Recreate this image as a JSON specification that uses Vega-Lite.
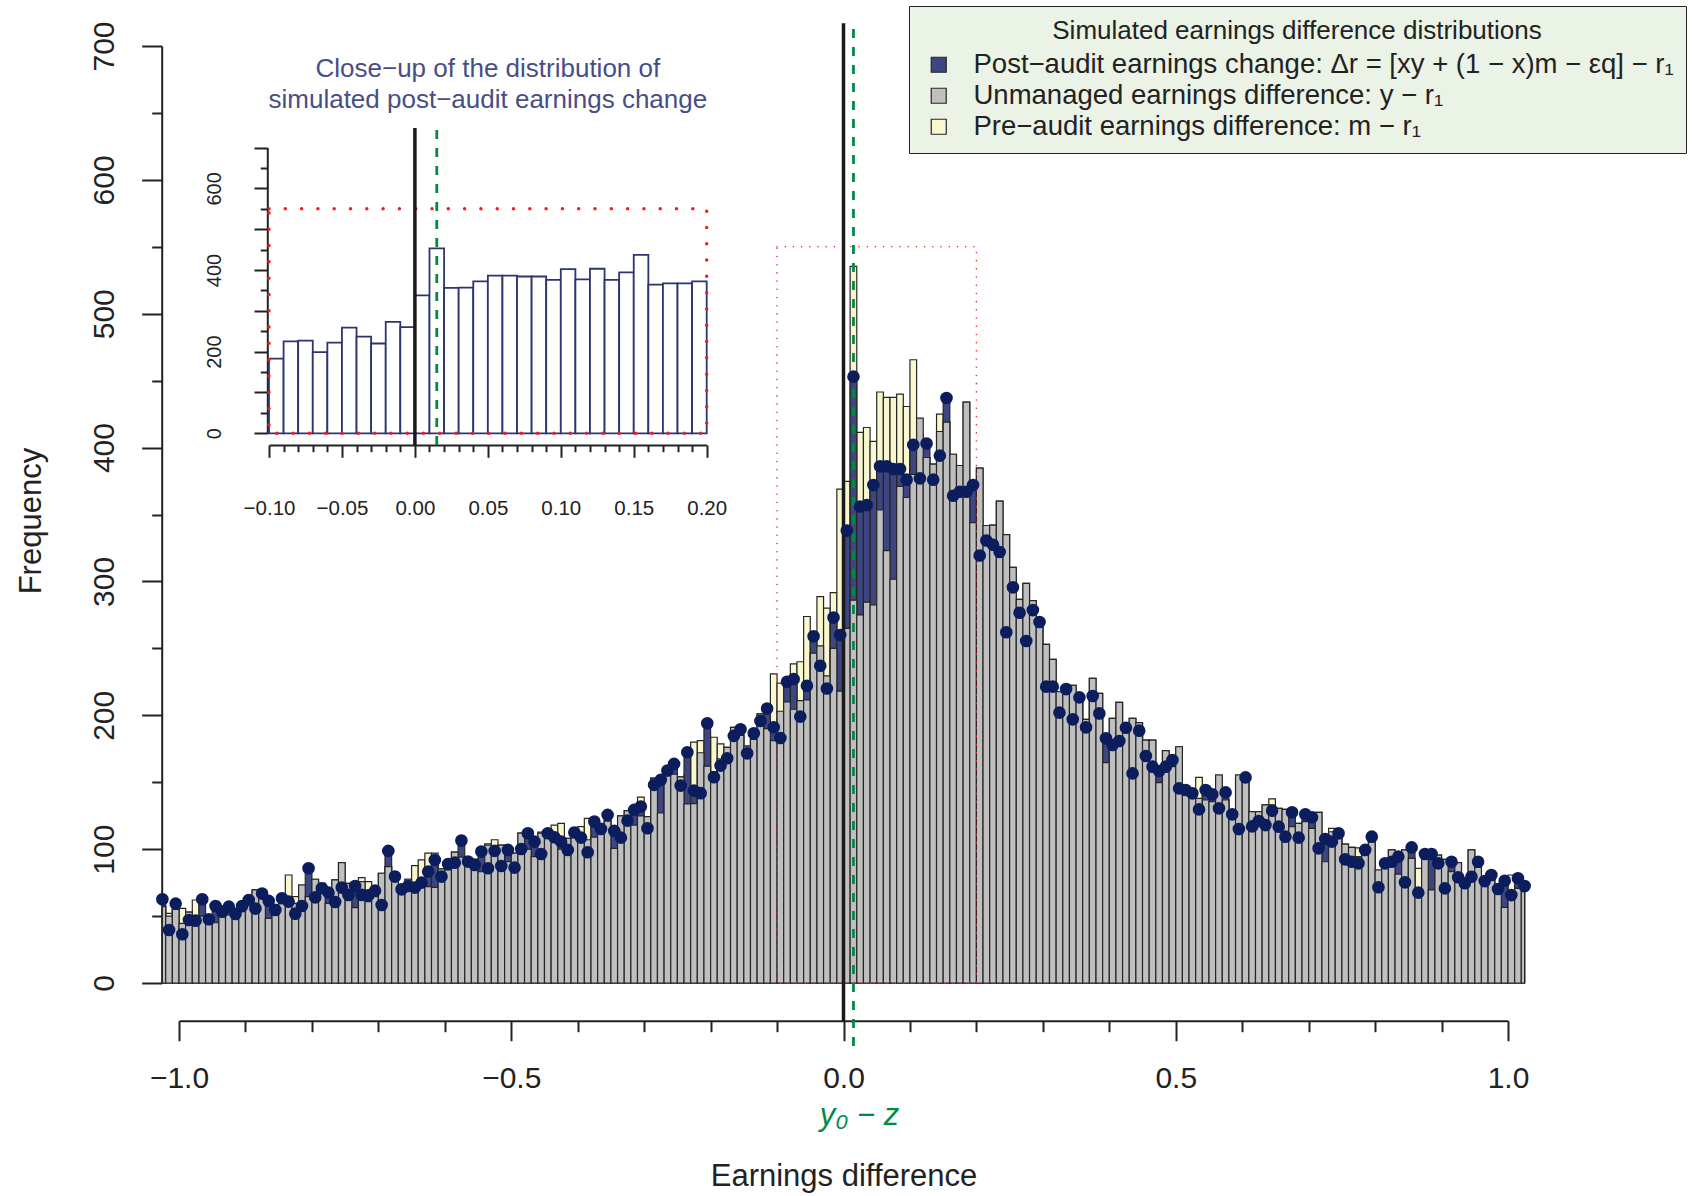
{
  "$schema": "https://vega.github.io/schema/vega-lite/v6.json",
  "width": 1329,
  "height": 937,
  "autosize": {"type": "none"},
  "padding": {"left": 179, "top": 46, "right": 184, "bottom": 213},
  "background": "white",
  "config": {
    "font": "Liberation Sans",
    "view": {"stroke": null},
    "axis": {"grid": false, "labelOverlap": false, "labelFlush": false, "labelBound": false, "domainColor": "#222", "tickColor": "#222", "labelColor": "#222", "titleColor": "#222", "titleFontWeight": "normal"}
  },
  "datasets": {
    "bins": [
      {"lo":-1.025,"hi":-1.02,"mid":-1.025,"pre":57,"unm":57,"post":62.5},
      {"lo":-1.02,"hi":-1.01,"mid":-1.015,"pre":52,"unm":50,"post":39.6},
      {"lo":-1.01,"hi":-1.0,"mid":-1.005,"pre":55,"unm":55,"post":59.3},
      {"lo":-1.0,"hi":-0.99,"mid":-0.995,"pre":55.8,"unm":44.6,"post":36.4},
      {"lo":-0.99,"hi":-0.98,"mid":-0.985,"pre":53,"unm":53,"post":47.1},
      {"lo":-0.98,"hi":-0.97,"mid":-0.975,"pre":62,"unm":42.6,"post":46.6},
      {"lo":-0.97,"hi":-0.96,"mid":-0.965,"pre":50,"unm":50,"post":62.5},
      {"lo":-0.96,"hi":-0.95,"mid":-0.955,"pre":44.6,"unm":44.6,"post":47.6},
      {"lo":-0.95,"hi":-0.94,"mid":-0.945,"pre":45,"unm":45,"post":57.5},
      {"lo":-0.94,"hi":-0.93,"mid":-0.935,"pre":49.6,"unm":49.6,"post":53.3},
      {"lo":-0.93,"hi":-0.92,"mid":-0.925,"pre":50.8,"unm":50.8,"post":57},
      {"lo":-0.92,"hi":-0.91,"mid":-0.915,"pre":48.3,"unm":48.3,"post":51.6},
      {"lo":-0.91,"hi":-0.9,"mid":-0.905,"pre":53.3,"unm":53.3,"post":57.5},
      {"lo":-0.9,"hi":-0.89,"mid":-0.895,"pre":58.3,"unm":58.3,"post":62},
      {"lo":-0.89,"hi":-0.88,"mid":-0.885,"pre":69.5,"unm":69.5,"post":55.6},
      {"lo":-0.88,"hi":-0.87,"mid":-0.875,"pre":69.5,"unm":69.5,"post":66.8},
      {"lo":-0.87,"hi":-0.86,"mid":-0.865,"pre":48.3,"unm":48.3,"post":61.3},
      {"lo":-0.86,"hi":-0.85,"mid":-0.855,"pre":57,"unm":57,"post":54.6},
      {"lo":-0.85,"hi":-0.84,"mid":-0.845,"pre":62,"unm":62,"post":63.3},
      {"lo":-0.84,"hi":-0.83,"mid":-0.835,"pre":80.7,"unm":64.5,"post":60.8},
      {"lo":-0.83,"hi":-0.82,"mid":-0.825,"pre":64.5,"unm":59.5,"post":51.8},
      {"lo":-0.82,"hi":-0.81,"mid":-0.815,"pre":73.2,"unm":73.2,"post":57.5},
      {"lo":-0.81,"hi":-0.8,"mid":-0.805,"pre":64.5,"unm":64.5,"post":85.7},
      {"lo":-0.8,"hi":-0.79,"mid":-0.795,"pre":77.5,"unm":77.5,"post":64},
      {"lo":-0.79,"hi":-0.78,"mid":-0.785,"pre":74.5,"unm":74.5,"post":70.8},
      {"lo":-0.78,"hi":-0.77,"mid":-0.775,"pre":59.5,"unm":59.5,"post":67.5},
      {"lo":-0.77,"hi":-0.76,"mid":-0.765,"pre":77,"unm":77,"post":60.5},
      {"lo":-0.76,"hi":-0.75,"mid":-0.755,"pre":90,"unm":90,"post":71.3},
      {"lo":-0.75,"hi":-0.74,"mid":-0.745,"pre":74.5,"unm":74.5,"post":65.8},
      {"lo":-0.74,"hi":-0.73,"mid":-0.735,"pre":56.3,"unm":56.3,"post":72.5},
      {"lo":-0.73,"hi":-0.72,"mid":-0.725,"pre":78.7,"unm":75.7,"post":65.8},
      {"lo":-0.72,"hi":-0.71,"mid":-0.715,"pre":75.7,"unm":60.8,"post":65.5},
      {"lo":-0.71,"hi":-0.7,"mid":-0.705,"pre":64.5,"unm":64.5,"post":69},
      {"lo":-0.7,"hi":-0.69,"mid":-0.695,"pre":82,"unm":82,"post":58.3},
      {"lo":-0.69,"hi":-0.68,"mid":-0.685,"pre":87,"unm":87,"post":98.7},
      {"lo":-0.68,"hi":-0.67,"mid":-0.675,"pre":77.5,"unm":77.5,"post":79.5},
      {"lo":-0.67,"hi":-0.66,"mid":-0.665,"pre":70,"unm":70,"post":70},
      {"lo":-0.66,"hi":-0.65,"mid":-0.655,"pre":77.5,"unm":77.5,"post":72.5},
      {"lo":-0.65,"hi":-0.64,"mid":-0.645,"pre":87.7,"unm":74.5,"post":71.3},
      {"lo":-0.64,"hi":-0.63,"mid":-0.635,"pre":92,"unm":75.7,"post":75},
      {"lo":-0.63,"hi":-0.62,"mid":-0.625,"pre":97,"unm":72,"post":83.2},
      {"lo":-0.62,"hi":-0.61,"mid":-0.615,"pre":97,"unm":71.5,"post":91.9},
      {"lo":-0.61,"hi":-0.6,"mid":-0.605,"pre":85.2,"unm":85.2,"post":79.5},
      {"lo":-0.6,"hi":-0.59,"mid":-0.595,"pre":84.5,"unm":84.5,"post":88.9},
      {"lo":-0.59,"hi":-0.58,"mid":-0.585,"pre":97.7,"unm":97.7,"post":89.9},
      {"lo":-0.58,"hi":-0.57,"mid":-0.575,"pre":94,"unm":94,"post":106.4},
      {"lo":-0.57,"hi":-0.56,"mid":-0.565,"pre":92.4,"unm":92.4,"post":90.7},
      {"lo":-0.56,"hi":-0.55,"mid":-0.555,"pre":92.4,"unm":92.4,"post":88.2},
      {"lo":-0.55,"hi":-0.54,"mid":-0.545,"pre":83.2,"unm":83.2,"post":98.2},
      {"lo":-0.54,"hi":-0.53,"mid":-0.535,"pre":104,"unm":103,"post":85.7},
      {"lo":-0.53,"hi":-0.52,"mid":-0.525,"pre":107,"unm":102,"post":98.7},
      {"lo":-0.52,"hi":-0.51,"mid":-0.515,"pre":103,"unm":103,"post":87.4},
      {"lo":-0.51,"hi":-0.5,"mid":-0.505,"pre":90.7,"unm":90.7,"post":99.4},
      {"lo":-0.5,"hi":-0.49,"mid":-0.495,"pre":97,"unm":97,"post":86.2},
      {"lo":-0.49,"hi":-0.48,"mid":-0.485,"pre":112,"unm":112,"post":100.1},
      {"lo":-0.48,"hi":-0.47,"mid":-0.475,"pre":100,"unm":100,"post":111.9},
      {"lo":-0.47,"hi":-0.46,"mid":-0.465,"pre":94.4,"unm":94.4,"post":105.6},
      {"lo":-0.46,"hi":-0.45,"mid":-0.455,"pre":112.7,"unm":112,"post":96.4},
      {"lo":-0.45,"hi":-0.44,"mid":-0.445,"pre":110,"unm":110,"post":111.9},
      {"lo":-0.44,"hi":-0.43,"mid":-0.435,"pre":118,"unm":107,"post":108.9},
      {"lo":-0.43,"hi":-0.42,"mid":-0.425,"pre":119.3,"unm":100,"post":105.6},
      {"lo":-0.42,"hi":-0.41,"mid":-0.415,"pre":108,"unm":108,"post":99.4},
      {"lo":-0.41,"hi":-0.4,"mid":-0.405,"pre":115.6,"unm":115.6,"post":112.4},
      {"lo":-0.4,"hi":-0.39,"mid":-0.395,"pre":116.8,"unm":110.6,"post":108.6},
      {"lo":-0.39,"hi":-0.38,"mid":-0.385,"pre":123,"unm":107,"post":97.7},
      {"lo":-0.38,"hi":-0.37,"mid":-0.375,"pre":109,"unm":109,"post":120.6},
      {"lo":-0.37,"hi":-0.36,"mid":-0.365,"pre":112,"unm":112,"post":115.1},
      {"lo":-0.36,"hi":-0.35,"mid":-0.355,"pre":121,"unm":121,"post":125.6},
      {"lo":-0.35,"hi":-0.34,"mid":-0.345,"pre":100.6,"unm":100.6,"post":113.6},
      {"lo":-0.34,"hi":-0.33,"mid":-0.335,"pre":124.8,"unm":124.8,"post":108.6},
      {"lo":-0.33,"hi":-0.32,"mid":-0.325,"pre":128.8,"unm":128.8,"post":121.3},
      {"lo":-0.32,"hi":-0.31,"mid":-0.315,"pre":118,"unm":118,"post":129.3},
      {"lo":-0.31,"hi":-0.3,"mid":-0.305,"pre":138.8,"unm":124.8,"post":131.8},
      {"lo":-0.3,"hi":-0.29,"mid":-0.295,"pre":124.3,"unm":124.3,"post":115.6},
      {"lo":-0.29,"hi":-0.28,"mid":-0.285,"pre":153,"unm":153,"post":148},
      {"lo":-0.28,"hi":-0.27,"mid":-0.275,"pre":127,"unm":127,"post":151.7},
      {"lo":-0.27,"hi":-0.26,"mid":-0.265,"pre":158,"unm":158,"post":158.7},
      {"lo":-0.26,"hi":-0.25,"mid":-0.255,"pre":156,"unm":156,"post":163.7},
      {"lo":-0.25,"hi":-0.24,"mid":-0.245,"pre":154,"unm":154,"post":147.5},
      {"lo":-0.24,"hi":-0.23,"mid":-0.235,"pre":155.5,"unm":133.8,"post":172.4},
      {"lo":-0.23,"hi":-0.22,"mid":-0.225,"pre":180,"unm":134,"post":143.7},
      {"lo":-0.22,"hi":-0.21,"mid":-0.215,"pre":181,"unm":172,"post":141.8},
      {"lo":-0.21,"hi":-0.2,"mid":-0.205,"pre":162,"unm":162,"post":194},
      {"lo":-0.2,"hi":-0.19,"mid":-0.195,"pre":183.6,"unm":158,"post":153.7},
      {"lo":-0.19,"hi":-0.18,"mid":-0.185,"pre":178.6,"unm":167.4,"post":162.4},
      {"lo":-0.18,"hi":-0.17,"mid":-0.175,"pre":176,"unm":176,"post":167.9},
      {"lo":-0.17,"hi":-0.16,"mid":-0.165,"pre":191,"unm":191,"post":184.6},
      {"lo":-0.16,"hi":-0.15,"mid":-0.155,"pre":185,"unm":185,"post":189.6},
      {"lo":-0.15,"hi":-0.14,"mid":-0.145,"pre":177,"unm":177,"post":171.6},
      {"lo":-0.14,"hi":-0.13,"mid":-0.135,"pre":182,"unm":182,"post":186.6},
      {"lo":-0.13,"hi":-0.12,"mid":-0.125,"pre":201,"unm":201,"post":195.8},
      {"lo":-0.12,"hi":-0.11,"mid":-0.115,"pre":190,"unm":190,"post":205},
      {"lo":-0.11,"hi":-0.1,"mid":-0.105,"pre":231,"unm":181,"post":191},
      {"lo":-0.1,"hi":-0.09,"mid":-0.095,"pre":224,"unm":203,"post":183},
      {"lo":-0.09,"hi":-0.08,"mid":-0.085,"pre":210,"unm":210,"post":225},
      {"lo":-0.08,"hi":-0.07,"mid":-0.075,"pre":238.4,"unm":204.5,"post":227},
      {"lo":-0.07,"hi":-0.06,"mid":-0.065,"pre":240,"unm":211,"post":199},
      {"lo":-0.06,"hi":-0.05,"mid":-0.055,"pre":273.8,"unm":211.5,"post":222},
      {"lo":-0.05,"hi":-0.04,"mid":-0.045,"pre":246.4,"unm":246.4,"post":259},
      {"lo":-0.04,"hi":-0.03,"mid":-0.035,"pre":288.7,"unm":251.9,"post":237},
      {"lo":-0.03,"hi":-0.02,"mid":-0.025,"pre":280,"unm":229.4,"post":220},
      {"lo":-0.02,"hi":-0.01,"mid":-0.015,"pre":291.7,"unm":250,"post":273},
      {"lo":-0.01,"hi":0.0,"mid":-0.005,"pre":369,"unm":218,"post":260},
      {"lo":0.0,"hi":0.01,"mid":0.005,"pre":374.7,"unm":265,"post":338},
      {"lo":0.01,"hi":0.02,"mid":0.015,"pre":535.4,"unm":286,"post":453},
      {"lo":0.02,"hi":0.03,"mid":0.025,"pre":411.3,"unm":275,"post":356},
      {"lo":0.03,"hi":0.04,"mid":0.035,"pre":415,"unm":284.5,"post":357},
      {"lo":0.04,"hi":0.05,"mid":0.045,"pre":404.6,"unm":282.5,"post":372},
      {"lo":0.05,"hi":0.06,"mid":0.055,"pre":441.5,"unm":353.5,"post":386},
      {"lo":0.06,"hi":0.07,"mid":0.065,"pre":437.5,"unm":323,"post":386},
      {"lo":0.07,"hi":0.08,"mid":0.075,"pre":437.5,"unm":301.7,"post":384},
      {"lo":0.08,"hi":0.09,"mid":0.085,"pre":440,"unm":371,"post":384},
      {"lo":0.09,"hi":0.1,"mid":0.095,"pre":430.7,"unm":362.7,"post":376},
      {"lo":0.1,"hi":0.11,"mid":0.105,"pre":465.6,"unm":380,"post":402},
      {"lo":0.11,"hi":0.12,"mid":0.115,"pre":410,"unm":422,"post":377},
      {"lo":0.12,"hi":0.13,"mid":0.125,"pre":392.6,"unm":392.6,"post":403},
      {"lo":0.13,"hi":0.14,"mid":0.135,"pre":387.6,"unm":387.6,"post":376},
      {"lo":0.14,"hi":0.15,"mid":0.145,"pre":425,"unm":412,"post":394},
      {"lo":0.15,"hi":0.16,"mid":0.155,"pre":419,"unm":419,"post":437},
      {"lo":0.16,"hi":0.17,"mid":0.165,"pre":395,"unm":395,"post":364},
      {"lo":0.17,"hi":0.18,"mid":0.175,"pre":386.6,"unm":386.6,"post":367},
      {"lo":0.18,"hi":0.19,"mid":0.185,"pre":434,"unm":434,"post":367},
      {"lo":0.19,"hi":0.2,"mid":0.195,"pre":344,"unm":344,"post":372},
      {"lo":0.2,"hi":0.21,"mid":0.205,"pre":384.7,"unm":384.7,"post":319.4},
      {"lo":0.21,"hi":0.22,"mid":0.215,"pre":341.8,"unm":341.8,"post":330.6},
      {"lo":0.22,"hi":0.23,"mid":0.225,"pre":342,"unm":342,"post":327.4},
      {"lo":0.23,"hi":0.24,"mid":0.235,"pre":360,"unm":360,"post":322},
      {"lo":0.24,"hi":0.25,"mid":0.245,"pre":335,"unm":335,"post":262},
      {"lo":0.25,"hi":0.26,"mid":0.255,"pre":310.5,"unm":310.5,"post":295.6},
      {"lo":0.26,"hi":0.27,"mid":0.265,"pre":286.6,"unm":286.6,"post":276.6},
      {"lo":0.27,"hi":0.28,"mid":0.275,"pre":298.6,"unm":298.6,"post":255.5},
      {"lo":0.28,"hi":0.29,"mid":0.285,"pre":285.6,"unm":285.6,"post":278.6},
      {"lo":0.29,"hi":0.3,"mid":0.295,"pre":266.7,"unm":266.7,"post":269.7},
      {"lo":0.3,"hi":0.31,"mid":0.305,"pre":253,"unm":253,"post":221.4},
      {"lo":0.31,"hi":0.32,"mid":0.315,"pre":241.8,"unm":241.8,"post":221.4},
      {"lo":0.32,"hi":0.33,"mid":0.325,"pre":217.6,"unm":217.6,"post":202},
      {"lo":0.33,"hi":0.34,"mid":0.335,"pre":223,"unm":223,"post":219.6},
      {"lo":0.34,"hi":0.35,"mid":0.345,"pre":222.4,"unm":222.4,"post":197},
      {"lo":0.35,"hi":0.36,"mid":0.355,"pre":210,"unm":210,"post":213.4},
      {"lo":0.36,"hi":0.37,"mid":0.365,"pre":197,"unm":197,"post":191},
      {"lo":0.37,"hi":0.38,"mid":0.375,"pre":227.6,"unm":227.6,"post":214.4},
      {"lo":0.38,"hi":0.39,"mid":0.385,"pre":216.4,"unm":216.4,"post":201.4},
      {"lo":0.39,"hi":0.4,"mid":0.395,"pre":164.6,"unm":164.6,"post":182.8},
      {"lo":0.4,"hi":0.41,"mid":0.405,"pre":197.7,"unm":197.7,"post":177.8},
      {"lo":0.41,"hi":0.42,"mid":0.415,"pre":209.7,"unm":209.7,"post":180.8},
      {"lo":0.42,"hi":0.43,"mid":0.425,"pre":194,"unm":194,"post":190.7},
      {"lo":0.43,"hi":0.44,"mid":0.435,"pre":197.7,"unm":197.7,"post":156.6},
      {"lo":0.44,"hi":0.45,"mid":0.445,"pre":194.5,"unm":194.5,"post":188.5},
      {"lo":0.45,"hi":0.46,"mid":0.455,"pre":181.5,"unm":181.5,"post":169.6},
      {"lo":0.46,"hi":0.47,"mid":0.465,"pre":181.5,"unm":181.5,"post":161.6},
      {"lo":0.47,"hi":0.48,"mid":0.475,"pre":149.7,"unm":149.7,"post":158.4},
      {"lo":0.48,"hi":0.49,"mid":0.485,"pre":173.6,"unm":173.6,"post":161.6},
      {"lo":0.49,"hi":0.5,"mid":0.495,"pre":161.6,"unm":161.6,"post":166.6},
      {"lo":0.5,"hi":0.51,"mid":0.505,"pre":176.5,"unm":176.5,"post":145.4},
      {"lo":0.51,"hi":0.52,"mid":0.515,"pre":141.7,"unm":141.7,"post":144.2},
      {"lo":0.52,"hi":0.53,"mid":0.525,"pre":138,"unm":138,"post":141.7},
      {"lo":0.53,"hi":0.54,"mid":0.535,"pre":153.6,"unm":138,"post":129.7},
      {"lo":0.54,"hi":0.55,"mid":0.545,"pre":136.7,"unm":136.7,"post":144.2},
      {"lo":0.55,"hi":0.56,"mid":0.555,"pre":135.5,"unm":135.5,"post":140.9},
      {"lo":0.56,"hi":0.57,"mid":0.565,"pre":155.4,"unm":155.4,"post":130.5},
      {"lo":0.57,"hi":0.58,"mid":0.575,"pre":136.7,"unm":136.7,"post":142.4},
      {"lo":0.58,"hi":0.59,"mid":0.585,"pre":128,"unm":128,"post":126},
      {"lo":0.59,"hi":0.6,"mid":0.595,"pre":155.4,"unm":155.4,"post":115},
      {"lo":0.6,"hi":0.61,"mid":0.605,"pre":155.4,"unm":155.4,"post":153.6},
      {"lo":0.61,"hi":0.62,"mid":0.615,"pre":128,"unm":128,"post":117},
      {"lo":0.62,"hi":0.63,"mid":0.625,"pre":128,"unm":128,"post":121},
      {"lo":0.63,"hi":0.64,"mid":0.635,"pre":133,"unm":133,"post":118},
      {"lo":0.64,"hi":0.65,"mid":0.645,"pre":137.5,"unm":133,"post":128.7},
      {"lo":0.65,"hi":0.66,"mid":0.655,"pre":130.5,"unm":130.5,"post":116.8},
      {"lo":0.66,"hi":0.67,"mid":0.665,"pre":129.7,"unm":129.7,"post":109.3},
      {"lo":0.67,"hi":0.68,"mid":0.675,"pre":116.8,"unm":116.8,"post":127.5},
      {"lo":0.68,"hi":0.69,"mid":0.685,"pre":119.3,"unm":119.3,"post":108.6},
      {"lo":0.69,"hi":0.7,"mid":0.695,"pre":120.5,"unm":120.5,"post":126},
      {"lo":0.7,"hi":0.71,"mid":0.705,"pre":115.5,"unm":115.5,"post":123.8},
      {"lo":0.71,"hi":0.72,"mid":0.715,"pre":127.5,"unm":127.5,"post":100.6},
      {"lo":0.72,"hi":0.73,"mid":0.725,"pre":90.6,"unm":90.6,"post":107.6},
      {"lo":0.73,"hi":0.74,"mid":0.735,"pre":115.5,"unm":113,"post":105.6},
      {"lo":0.74,"hi":0.75,"mid":0.745,"pre":111.8,"unm":111.8,"post":111.8},
      {"lo":0.75,"hi":0.76,"mid":0.755,"pre":103.8,"unm":103.8,"post":92.4},
      {"lo":0.76,"hi":0.77,"mid":0.765,"pre":101.3,"unm":101.3,"post":90.6},
      {"lo":0.77,"hi":0.78,"mid":0.775,"pre":101,"unm":94.4,"post":89.4},
      {"lo":0.78,"hi":0.79,"mid":0.785,"pre":101.3,"unm":101.3,"post":99.4},
      {"lo":0.79,"hi":0.8,"mid":0.795,"pre":105.6,"unm":105.6,"post":109.3},
      {"lo":0.8,"hi":0.81,"mid":0.805,"pre":84.4,"unm":84.4,"post":71.5},
      {"lo":0.81,"hi":0.82,"mid":0.815,"pre":86.4,"unm":86.4,"post":89.4},
      {"lo":0.82,"hi":0.83,"mid":0.825,"pre":99.4,"unm":99.4,"post":90.6},
      {"lo":0.83,"hi":0.84,"mid":0.835,"pre":81.4,"unm":81.4,"post":94.4},
      {"lo":0.84,"hi":0.85,"mid":0.845,"pre":99.4,"unm":99.4,"post":75.2},
      {"lo":0.85,"hi":0.86,"mid":0.855,"pre":93.1,"unm":93.1,"post":101.3},
      {"lo":0.86,"hi":0.87,"mid":0.865,"pre":85.7,"unm":70,"post":67.5},
      {"lo":0.87,"hi":0.88,"mid":0.875,"pre":98.9,"unm":98.9,"post":96.4},
      {"lo":0.88,"hi":0.89,"mid":0.885,"pre":69.5,"unm":69.5,"post":96.4},
      {"lo":0.89,"hi":0.9,"mid":0.895,"pre":95.6,"unm":95.6,"post":89.4},
      {"lo":0.9,"hi":0.91,"mid":0.905,"pre":92.4,"unm":92.4,"post":70.7},
      {"lo":0.91,"hi":0.92,"mid":0.915,"pre":83.2,"unm":83.2,"post":90.6},
      {"lo":0.92,"hi":0.93,"mid":0.925,"pre":89.9,"unm":89.9,"post":79},
      {"lo":0.93,"hi":0.94,"mid":0.935,"pre":73.2,"unm":73.2,"post":74.5},
      {"lo":0.94,"hi":0.95,"mid":0.945,"pre":99.4,"unm":99.4,"post":79.4},
      {"lo":0.95,"hi":0.96,"mid":0.955,"pre":86.4,"unm":86.4,"post":90.6},
      {"lo":0.96,"hi":0.97,"mid":0.965,"pre":72,"unm":72,"post":76.2},
      {"lo":0.97,"hi":0.98,"mid":0.975,"pre":77,"unm":77,"post":80.7},
      {"lo":0.98,"hi":0.99,"mid":0.985,"pre":71.5,"unm":71.5,"post":70.2},
      {"lo":0.99,"hi":1.0,"mid":0.995,"pre":56.5,"unm":56.5,"post":76.4},
      {"lo":1.0,"hi":1.01,"mid":1.005,"pre":80.7,"unm":64.5,"post":65.7},
      {"lo":1.01,"hi":1.02,"mid":1.015,"pre":70.7,"unm":70.7,"post":78.2},
      {"lo":1.02,"hi":1.025,"mid":1.025,"pre":68.2,"unm":68.2,"post":72.5}
    ]
  },
  "layer": [
    {
      "layer": [
        {
          "data": {"name": "bins"},
          "mark": {"type": "bar", "stroke": "#262626", "strokeWidth": 1.2, "opacity": 1},
          "encoding": {
            "x": {"field": "lo", "type": "quantitative",
              "scale": {"domain": [-1, 1], "nice": false, "zero": false},
              "axis": {
                "orient": "bottom", "offset": 37.7,
                "values": [-1,-0.95,-0.9,-0.85,-0.8,-0.75,-0.7,-0.65,-0.6,-0.55,-0.5,-0.45,-0.4,-0.35,-0.3,-0.25,-0.2,-0.15,-0.1,-0.05,0,0.05,0.1,0.15,0.2,0.25,0.3,0.35,0.4,0.45,0.5,0.55,0.6,0.65,0.7,0.75,0.8,0.85,0.9,0.95,1],
                "labelExpr": "abs(datum.value*2 - round(datum.value*2)) < 0.000001 ? format(datum.value, '.1f') : ''",
                "tickSize": {"condition": {"test": "abs(datum.value*2 - round(datum.value*2)) < 0.000001", "value": 20}, "value": 11},
                "tickWidth": 2, "domainWidth": 2,
                "labelFontSize": 30, "labelPadding": 22.3,
                "title": "Earnings difference", "titleFontSize": 31, "titleY": 164.3, "titleBaseline": "alphabetic"
              }
            },
            "x2": {"field": "hi"},
            "y": {"field": "pre", "type": "quantitative", "stack": null,
              "scale": {"domain": [0, 700], "nice": false, "zero": false},
              "axis": {
                "orient": "left", "offset": 17.3,
                "values": [0,50,100,150,200,250,300,350,400,450,500,550,600,650,700],
                "labelExpr": "datum.value % 100 === 0 ? datum.label : ''",
                "tickSize": {"condition": {"test": "datum.value % 100 === 0", "value": 20}, "value": 10},
                "tickWidth": 2, "domainWidth": 2,
                "labelFontSize": 30, "labelAngle": -90, "labelAlign": "center", "labelBaseline": "alphabetic", "labelPadding": 28,
                "title": "Frequency", "titleFontSize": 31, "titleAngle": -90, "titleAlign": "center", "titleBaseline": "alphabetic", "titleX": -121.7, "titleY": 474.6
              }
            },
            "y2": {"datum": 0},
            "color": {"datum": "Pre−audit earnings difference: m − r₁",
              "scale": {"domain": ["Post−audit earnings change: Δr = [xy + (1 − x)m − εq] − r₁", "Unmanaged earnings difference: y − r₁", "Pre−audit earnings difference: m − r₁"], "range": ["#3d4680", "#bfbfbf", "#f9f7cf"]},
              "legend": {
                "orient": "none", "legendX": 730, "legendY": -40,
                "title": "Simulated earnings difference distributions",
                "titleFontSize": 26, "titleFontWeight": "normal", "titleColor": "#222", "titleAnchor": "middle", "titleAlign": "center", "titlePadding": 7, "titleLimit": 0,
                "labelFontSize": 27.5, "labelColor": "#222", "labelLimit": 0, "labelOffset": 21,
                "symbolType": "square", "symbolSize": 225, "symbolStrokeColor": "#333", "symbolStrokeWidth": 1.2, "symbolOffset": 4, "symbolOpacity": 1,
                "rowPadding": 2, "padding": 12, "fillColor": "#eaf3e6", "strokeColor": "#222"
              }
            }
          }
        },
        {
          "data": {"name": "bins"},
          "mark": {"type": "bar", "stroke": "#262626", "strokeWidth": 1.2, "opacity": 1},
          "encoding": {
            "x": {"field": "lo", "type": "quantitative"},
            "x2": {"field": "hi"},
            "y": {"field": "post", "type": "quantitative", "stack": null},
            "y2": {"datum": 0},
            "color": {"datum": "Post−audit earnings change: Δr = [xy + (1 − x)m − εq] − r₁"}
          }
        },
        {
          "data": {"name": "bins"},
          "mark": {"type": "bar", "stroke": "#262626", "strokeWidth": 1.2, "opacity": 1},
          "encoding": {
            "x": {"field": "lo", "type": "quantitative"},
            "x2": {"field": "hi"},
            "y": {"field": "unm", "type": "quantitative", "stack": null},
            "y2": {"datum": 0},
            "color": {"datum": "Unmanaged earnings difference: y − r₁"}
          }
        },
        {
          "data": {"values": [{}]},
          "mark": {"type": "rect", "fillOpacity": 0, "stroke": "#ee2a2a", "strokeWidth": 1.6, "strokeDash": [0, 8.2], "strokeCap": "round"},
          "encoding": {"x": {"datum": -0.1}, "x2": {"datum": 0.2}, "y": {"datum": 0}, "y2": {"datum": 550}}
        },
        {
          "data": {"values": [{}]},
          "mark": {"type": "rule", "color": "#1a1a1a", "strokeWidth": 3.5},
          "encoding": {"x": {"datum": 0}, "y": {"datum": -28.4}, "y2": {"datum": 717}}
        },
        {
          "data": {"values": [{}]},
          "mark": {"type": "rule", "color": "#008b45", "strokeWidth": 2.8, "strokeDash": [9, 9]},
          "encoding": {"x": {"datum": 0.015}, "y": {"datum": -47.1}, "y2": {"datum": 717}}
        },
        {
          "data": {"name": "bins"},
          "mark": {"type": "point", "filled": true, "shape": "circle", "size": 160, "color": "#0c1d5e", "opacity": 1},
          "encoding": {
            "x": {"field": "mid", "type": "quantitative"},
            "y": {"field": "post", "type": "quantitative"}
          }
        },
        {
          "data": {"values": [{}]},
          "mark": {"type": "text", "text": "y₀ − z", "fontSize": 31, "fontStyle": "italic", "color": "#008b45", "align": "center", "baseline": "alphabetic", "dx": 6},
          "encoding": {"x": {"datum": 0.015}, "y": {"datum": -106}}
        }
      ]
    },
    {
      "layer": [
        {
          "data": {"name": "bins"},
          "transform": [{"filter": "datum.lo > -0.1001 && datum.lo < 0.195"}],
          "mark": {"type": "bar", "fill": "white", "stroke": "#2c3572", "strokeWidth": 1.8, "opacity": 1},
          "encoding": {
            "x": {"field": "lo", "type": "quantitative",
              "scale": {"domain": [-0.1, 0.2], "range": [90, 527.7], "nice": false, "zero": false},
              "axis": {
                "orient": "bottom", "offset": -538, "title": null,
                "values": [-0.1,-0.09,-0.08,-0.07,-0.06,-0.05,-0.04,-0.03,-0.02,-0.01,0,0.01,0.02,0.03,0.04,0.05,0.06,0.07,0.08,0.09,0.1,0.11,0.12,0.13,0.14,0.15,0.16,0.17,0.18,0.19,0.2],
                "labelExpr": "abs(datum.value*20 - round(datum.value*20)) < 0.000001 ? format(datum.value, '.2f') : ''",
                "tickSize": {"condition": {"test": "abs(datum.value*20 - round(datum.value*20)) < 0.000001", "value": 12.3}, "value": 6.7},
                "tickWidth": 2, "domainWidth": 2, "labelFontSize": 20.5, "labelPadding": 41.5
              }
            },
            "x2": {"field": "hi"},
            "y": {"field": "post", "type": "quantitative", "stack": null,
              "scale": {"domain": [0, 700], "range": [387.3, 101.5], "nice": false, "zero": false},
              "axis": {
                "orient": "left", "offset": -88.3, "title": null,
                "values": [0,50,100,150,200,250,300,350,400,450,500,550,600,650,700],
                "labelExpr": "datum.value % 200 === 0 ? datum.label : ''",
                "tickSize": {"condition": {"test": "datum.value % 100 === 0", "value": 13.3}, "value": 7},
                "tickWidth": 2, "domainWidth": 2,
                "labelFontSize": 20, "labelAngle": -90, "labelAlign": "center", "labelBaseline": "alphabetic", "labelPadding": 33.3
              }
            },
            "y2": {"datum": 0}
          }
        },
        {
          "data": {"values": [{}]},
          "mark": {"type": "rect", "fillOpacity": 0, "stroke": "#f01c24", "strokeWidth": 3.5, "strokeDash": [0, 16.3], "strokeCap": "round"},
          "encoding": {"x": {"datum": -0.1}, "x2": {"datum": 0.2}, "y": {"datum": 0}, "y2": {"datum": 550}}
        },
        {
          "data": {"values": [{}]},
          "mark": {"type": "rule", "color": "#1a1a1a", "strokeWidth": 3.5},
          "encoding": {"x": {"datum": 0}, "y": {"datum": -28.7}, "y2": {"datum": 747.8}}
        },
        {
          "data": {"values": [{}]},
          "mark": {"type": "rule", "color": "#008b45", "strokeWidth": 2.8, "strokeDash": [9, 9]},
          "encoding": {"x": {"datum": 0.015}, "y": {"datum": -28.7}, "y2": {"datum": 747.8}}
        },
        {
          "data": {"values": [{}]},
          "mark": {"type": "text", "text": ["Close−up of the distribution of", "simulated post−audit earnings change"], "fontSize": 26, "lineHeight": 31, "color": "#474e86", "align": "center", "baseline": "top"},
          "encoding": {"x": {"datum": 0.05}, "y": {"datum": 924}}
        }
      ]
    }
  ],
  "resolve": {"scale": {"x": "independent", "y": "independent"}}
}
